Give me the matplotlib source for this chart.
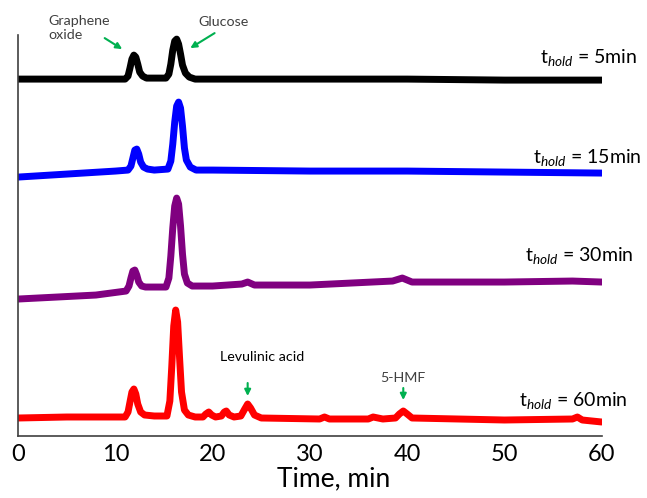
import matplotlib
matplotlib.use("Agg")
import matplotlib.pyplot as plt

plt.rcParams['font.family'] = ['Lato', 'DejaVu Sans']
plt.rcParams['mathtext.fontset'] = 'custom'
plt.rcParams['mathtext.rm'] = 'Lato'
plt.rcParams['mathtext.it'] = 'Lato:italic'

# traces (time in min, signal in arbitrary units, stacked)
t_5 = [0, 10.5, 11.0, 11.3, 11.5, 11.7, 11.9, 12.1, 12.3, 12.5, 12.8, 13.2, 14.0,
       15.2, 15.5, 15.7, 15.9, 16.1, 16.3, 16.5, 16.7, 16.9, 17.2, 17.6, 18.2,
       20, 30, 40, 50, 60]
y_5 = [357, 357, 357, 360, 368, 377, 381, 379, 372, 364, 360, 358, 358,
       358, 362, 372, 386, 395, 397, 392, 382, 371, 363, 359, 357,
       357, 357, 357, 356, 356]

t_15 = [0, 5, 10.0, 11.3, 11.6, 11.8, 12.0, 12.2, 12.4, 12.6, 12.9, 13.3, 14.0,
        15.4, 15.7, 15.9, 16.1, 16.3, 16.5, 16.7, 16.9, 17.1, 17.3, 17.7, 18.3,
        20, 30, 40, 50, 60]
y_15 = [259, 262, 265, 266, 270, 278, 286, 287, 282, 274, 269, 267, 266,
        267, 275, 292, 314, 330, 334, 328, 310, 288, 276, 269, 266,
        266, 265, 265, 264, 263]

t_30 = [0, 4, 8, 11.1, 11.4, 11.6, 11.8, 12.0, 12.2, 12.4, 12.7, 13.1, 14.0,
        15.2, 15.5, 15.7, 15.9, 16.1, 16.3, 16.5, 16.7, 16.9, 17.1, 17.4, 17.9,
        20, 23.0, 23.6, 24.3, 30, 38.5, 39.5, 40.5, 50, 57, 60]
y_30 = [137, 139, 141, 145, 150, 158, 165, 166, 161, 154, 150, 149, 149,
        149, 158, 180, 208, 230, 238, 232, 210, 182, 162, 153, 150,
        150, 152, 154, 151, 151, 155, 158, 154, 154, 155, 154]

t_60 = [0, 5, 11.0, 11.3, 11.5, 11.7, 11.9, 12.1, 12.3, 12.6, 13.0, 14.0,
        15.3, 15.6, 15.8, 16.0, 16.2, 16.4, 16.6, 16.8, 17.1, 17.5, 18.2,
        19.0, 19.3, 19.6, 19.9, 20.3, 20.9, 21.2, 21.4, 21.7, 22.2, 22.9,
        23.3, 23.6, 23.9, 24.3, 25.0, 31.0, 31.5, 32.0, 36.0, 36.5, 37.5,
        38.8, 39.2, 39.6, 40.0, 40.5, 50, 57.0, 57.5, 58.0, 60]
y_60 = [18, 19, 19, 24, 34, 44, 47, 42, 32, 24, 21, 20,
        20, 35, 70, 110, 126, 114, 78, 44, 26, 21, 19,
        19, 22, 24, 21, 19, 20, 24, 25, 21, 19, 20,
        27, 32, 28, 21, 18, 17, 19, 17, 17, 19, 17,
        18, 22, 25, 22, 18, 16, 17, 19, 16, 14]

colors = ['black', '#0000FF', '#800080', '#FF0000']
hold_labels = ['5min', '15min', '30min', '60min']
label_pos = [(63.6, 379), (64.1, 279), (63.3, 181), (62.7, 36)]

fig = plt.figure(figsize=(6.47, 4.98), dpi=100)
ax = fig.add_axes([0.028, 0.1245, 0.902, 0.805])

for (t, y), c in zip([(t_5, y_5), (t_15, y_15), (t_30, y_30), (t_60, y_60)], colors):
    ax.plot(t, y, color=c, lw=5, solid_capstyle='round', solid_joinstyle='round')

for lab, (x, y) in zip(hold_labels, label_pos):
    ax.text(x, y, r'$\mathrm{t}_{hold}$ = ' + lab, ha='right', va='center',
            fontsize=14, clip_on=False)

green = '#00B050'
arrow = dict(arrowstyle='-|>', color=green, lw=1.5, mutation_scale=9, shrinkA=0, shrinkB=0)
ax.annotate('', xy=(10.7, 387), xytext=(8.9, 398), arrowprops=arrow, annotation_clip=False)
ax.annotate('', xy=(17.7, 388), xytext=(20.2, 403), arrowprops=arrow, annotation_clip=False)
ax.annotate('', xy=(23.6, 40), xytext=(23.6, 53), arrowprops=arrow)
ax.annotate('', xy=(39.6, 36), xytext=(39.6, 48), arrowprops=arrow)

ax.text(3.1, 421, 'Graphene\noxide', fontsize=10.3, ha='left', va='top', color='#404040',
        linespacing=1.2, clip_on=False)
ax.text(18.5, 414, 'Glucose', fontsize=10.3, ha='left', va='center', color='#404040', clip_on=False)
ax.text(25.1, 79, 'Levulinic acid', fontsize=10.3, ha='center', va='center')
ax.text(39.6, 58, '5-HMF', fontsize=10.3, ha='center', va='center', color='#404040')

ax.set_xlim(0, 60)
ax.set_ylim(0, 401)
ax.set_xticks([0, 10, 20, 30, 40, 50, 60])
ax.set_yticks([])
ax.tick_params(axis='x', length=0, labelsize=17, pad=6)
ax.set_xlabel('Time, min', fontsize=19)
ax.xaxis.set_label_coords(0.54, -0.075)
for s in ['top', 'right']:
    ax.spines[s].set_visible(False)
for s in ['left', 'bottom']:
    ax.spines[s].set_color('#404040')
    ax.spines[s].set_linewidth(1.2)

fig.savefig('out.png', dpi=100)
